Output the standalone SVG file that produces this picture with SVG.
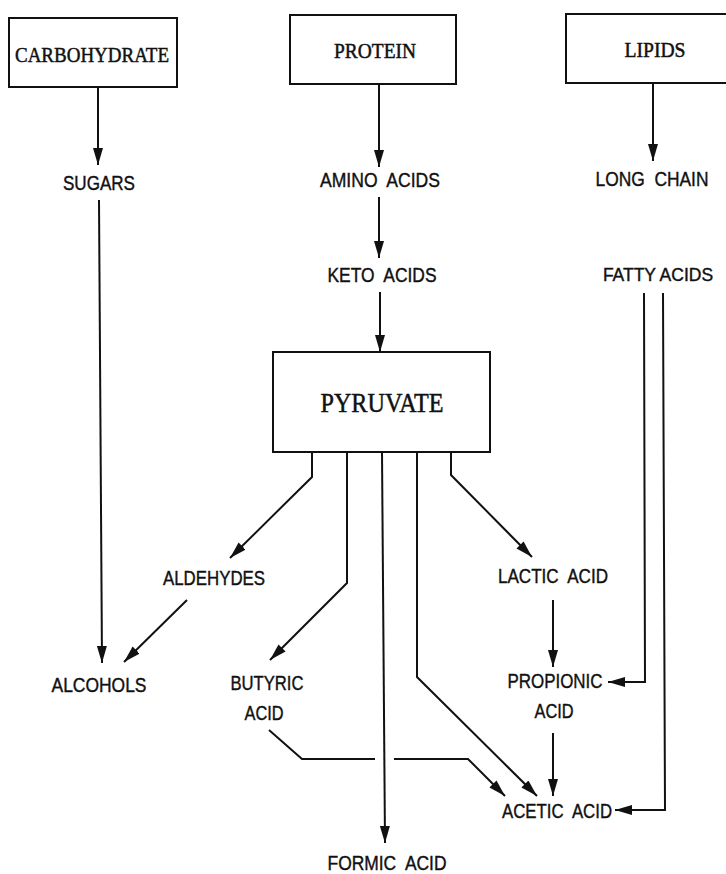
<svg xmlns="http://www.w3.org/2000/svg" width="726" height="874" viewBox="0 0 726 874">
  <style>
    .box { fill: #fff; stroke: #111; stroke-width: 2; }
    .serif { font-family: "Liberation Serif", "Times New Roman", serif; fill: #111; stroke: #111; stroke-width: 0.5; text-anchor: middle; }
    .sans { font-family: "Liberation Sans", Arial, sans-serif; font-size: 20px; fill: #111; stroke: #111; stroke-width: 0.4; text-anchor: middle; white-space: pre; }
    .wire { fill: none; stroke: #111; stroke-width: 2; stroke-linejoin: miter; }
  </style>
  <defs>
    <marker id="arrow" markerUnits="userSpaceOnUse" markerWidth="18" markerHeight="11" refX="17" refY="5" orient="auto">
      <path d="M0,0 L17,5 L0,10 z" fill="#111"/>
    </marker>
  </defs>
  <rect width="726" height="874" fill="#fff"/>

  <!-- source boxes -->
  <g id="carbohydrate">
    <rect class="box" x="9" y="18" width="168" height="69"/>
    <text class="serif" x="92" y="62" font-size="22" textLength="154" lengthAdjust="spacingAndGlyphs">CARBOHYDRATE</text>
  </g>
  <g id="protein">
    <rect class="box" x="290" y="15" width="166" height="69"/>
    <text class="serif" x="375" y="58" font-size="22" textLength="82" lengthAdjust="spacingAndGlyphs">PROTEIN</text>
  </g>
  <g id="lipids">
    <rect class="box" x="566" y="14" width="180" height="69"/>
    <text class="serif" x="655" y="57" font-size="22" textLength="61" lengthAdjust="spacingAndGlyphs">LIPIDS</text>
  </g>

  <!-- intermediates -->
  <g id="sugars"><text class="sans" x="99" y="190" textLength="72" lengthAdjust="spacingAndGlyphs">SUGARS</text></g>
  <g id="amino-acids"><text class="sans" x="380" y="187" textLength="120" lengthAdjust="spacingAndGlyphs">AMINO  ACIDS</text></g>
  <g id="keto-acids"><text class="sans" x="382" y="282" textLength="109" lengthAdjust="spacingAndGlyphs">KETO  ACIDS</text></g>
  <g id="long-chain"><text class="sans" x="652" y="186" textLength="113" lengthAdjust="spacingAndGlyphs">LONG  CHAIN</text></g>
  <g id="fatty-acids"><text class="sans" x="658" y="281" style="font-size: 17.5px; white-space: normal">FATTY ACIDS</text></g>

  <g id="pyruvate">
    <rect class="box" x="273" y="352" width="217" height="100"/>
    <text class="serif" x="382" y="412" font-size="27" textLength="123" lengthAdjust="spacingAndGlyphs">PYRUVATE</text>
  </g>

  <!-- products -->
  <g id="aldehydes"><text class="sans" x="214" y="585" textLength="102" lengthAdjust="spacingAndGlyphs">ALDEHYDES</text></g>
  <g id="lactic-acid"><text class="sans" x="553" y="583" textLength="110" lengthAdjust="spacingAndGlyphs">LACTIC  ACID</text></g>
  <g id="alcohols"><text class="sans" x="99" y="692" textLength="95" lengthAdjust="spacingAndGlyphs">ALCOHOLS</text></g>
  <g id="butyric-acid">
    <text class="sans" x="267" y="690" textLength="73" lengthAdjust="spacingAndGlyphs">BUTYRIC</text>
    <text class="sans" x="264" y="720" textLength="39" lengthAdjust="spacingAndGlyphs">ACID</text>
  </g>
  <g id="propionic-acid">
    <text class="sans" x="555" y="688" textLength="95" lengthAdjust="spacingAndGlyphs">PROPIONIC</text>
    <text class="sans" x="554" y="718" textLength="39" lengthAdjust="spacingAndGlyphs">ACID</text>
  </g>
  <g id="acetic-acid"><text class="sans" x="557" y="818" textLength="110" lengthAdjust="spacingAndGlyphs">ACETIC  ACID</text></g>
  <g id="formic-acid"><text class="sans" x="387" y="870" textLength="119" lengthAdjust="spacingAndGlyphs">FORMIC  ACID</text></g>

  <!-- connectors -->
  <g id="connectors" class="wire">
    <path class="wire" d="M98,87 L98,165" marker-end="url(#arrow)"/>
    <path class="wire" d="M99,200 L102,663" marker-end="url(#arrow)"/>
    <path class="wire" d="M379,84 L379,167" marker-end="url(#arrow)"/>
    <path class="wire" d="M379,197 L379,258" marker-end="url(#arrow)"/>
    <path class="wire" d="M380,292 L380,352" marker-end="url(#arrow)"/>
    <path class="wire" d="M653,83 L653,161" marker-end="url(#arrow)"/>

    <path class="wire" d="M644,293 L645,682 L608,682" marker-end="url(#arrow)"/>
    <path class="wire" d="M663,293 L665,810 L615,810" marker-end="url(#arrow)"/>

    <path class="wire" d="M312,452 L312,477 L230,558" marker-end="url(#arrow)"/>
    <path class="wire" d="M347,452 L347,583 L270,660" marker-end="url(#arrow)"/>
    <path class="wire" d="M382,452 L385,843" marker-end="url(#arrow)"/>
    <path class="wire" d="M417,452 L417,677 L537,796" marker-end="url(#arrow)"/>
    <path class="wire" d="M451,452 L451,475 L532,557" marker-end="url(#arrow)"/>

    <path class="wire" d="M187,600 L124,662" marker-end="url(#arrow)"/>
    <path class="wire" d="M553,600 L553,667" marker-end="url(#arrow)"/>
    <path class="wire" d="M553,733 L553,796" marker-end="url(#arrow)"/>

    <path class="wire" d="M269,730 L302,759 L375,759"/>
    <path class="wire" d="M394,759 L468,759 L505,796" marker-end="url(#arrow)"/>
  </g>
</svg>
